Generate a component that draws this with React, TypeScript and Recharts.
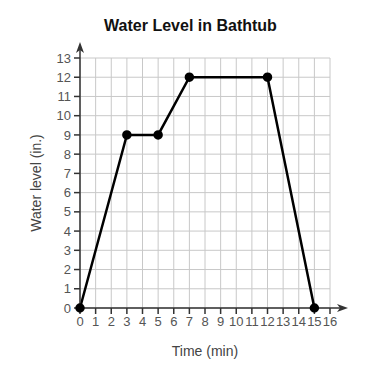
import React from "react";
import { CartesianGrid, Line, LineChart, XAxis, YAxis } from "recharts";

const times = [0, 3, 5, 7, 12, 15];
const levels = [0, 9, 9, 12, 12, 0];
const xTicks = [0, 1, 2, 3, 4, 5, 6, 7, 8, 9, 10, 11, 12, 13, 14, 15, 16];
const yTicks = [0, 1, 2, 3, 4, 5, 6, 7, 8, 9, 10, 11, 12, 13];

const data = times.map((t, i) => ({ time: t, level: levels[i] }));

const W = 381;
const H = 374;
const margin = { top: 58, right: 51, left: 0, bottom: 0 };
const yAxisWidth = 80;
const xAxisHeight = 66;
const font = "Arial, 'Liberation Sans', sans-serif";
const axisColor = "#333";

// plot area edges, used for the axis arrows
const plotLeft = margin.left + yAxisWidth;
const plotBottom = H - margin.bottom - xAxisHeight;
const plotTop = margin.top;
const plotRight = W - margin.right;

export default function App() {
  return (
    <div style={{ position: "absolute", left: 0, top: 0, width: W, height: H, background: "#fff" }}>
      <div
        style={{
          position: "absolute",
          top: 17,
          left: 0,
          width: W,
          textAlign: "center",
          fontFamily: font,
          fontWeight: "bold",
          fontSize: 16,
          color: "#111",
        }}
      >
        Water Level in Bathtub
      </div>
      <LineChart width={W} height={H} data={data} margin={margin}>
        <CartesianGrid stroke="#c8c8c8" strokeWidth={1} />
        <XAxis
          dataKey="time"
          type="number"
          domain={[0, 16]}
          ticks={xTicks}
          interval={0}
          height={xAxisHeight}
          stroke={axisColor}
          strokeWidth={1.5}
          tickSize={6}
          tickMargin={3}
          tick={{ fill: "#555", fontSize: 13, fontFamily: font }}
          label={{
            value: "Time (min)",
            position: "insideBottom",
            offset: 18,
            style: { fill: "#444", fontSize: 14, fontFamily: font },
          }}
        />
        <YAxis
          type="number"
          domain={[0, 13]}
          ticks={yTicks}
          interval={0}
          width={yAxisWidth}
          stroke={axisColor}
          strokeWidth={1.5}
          tickSize={6}
          tickMargin={3}
          tick={{ fill: "#555", fontSize: 13, fontFamily: font }}
          label={{
            value: "Water level (in.)",
            angle: -90,
            position: "insideLeft",
            offset: 36,
            style: { textAnchor: "middle", fill: "#444", fontSize: 14, fontFamily: font },
          }}
        />
        <Line
          dataKey="level"
          stroke="#000"
          strokeWidth={2.5}
          dot={{ r: 3.5, fill: "#000", stroke: "#000" }}
          activeDot={false}
          isAnimationActive={false}
        />
      </LineChart>
      <svg
        width={W}
        height={H}
        style={{ position: "absolute", left: 0, top: 0, pointerEvents: "none" }}
      >
        <line x1={plotLeft} y1={plotTop} x2={plotLeft} y2={plotTop - 10} stroke={axisColor} strokeWidth={1.5} />
        <polygon
          points={`${plotLeft - 4},${plotTop - 5} ${plotLeft},${plotTop - 16} ${plotLeft + 4},${plotTop - 5} ${plotLeft},${plotTop - 8}`}
          fill={axisColor}
        />
        <line x1={plotRight} y1={plotBottom} x2={plotRight + 12} y2={plotBottom} stroke={axisColor} strokeWidth={1.5} />
        <polygon
          points={`${plotRight + 7},${plotBottom - 4} ${plotRight + 18},${plotBottom} ${plotRight + 7},${plotBottom + 4} ${plotRight + 10},${plotBottom}`}
          fill={axisColor}
        />
      </svg>
    </div>
  );
}
